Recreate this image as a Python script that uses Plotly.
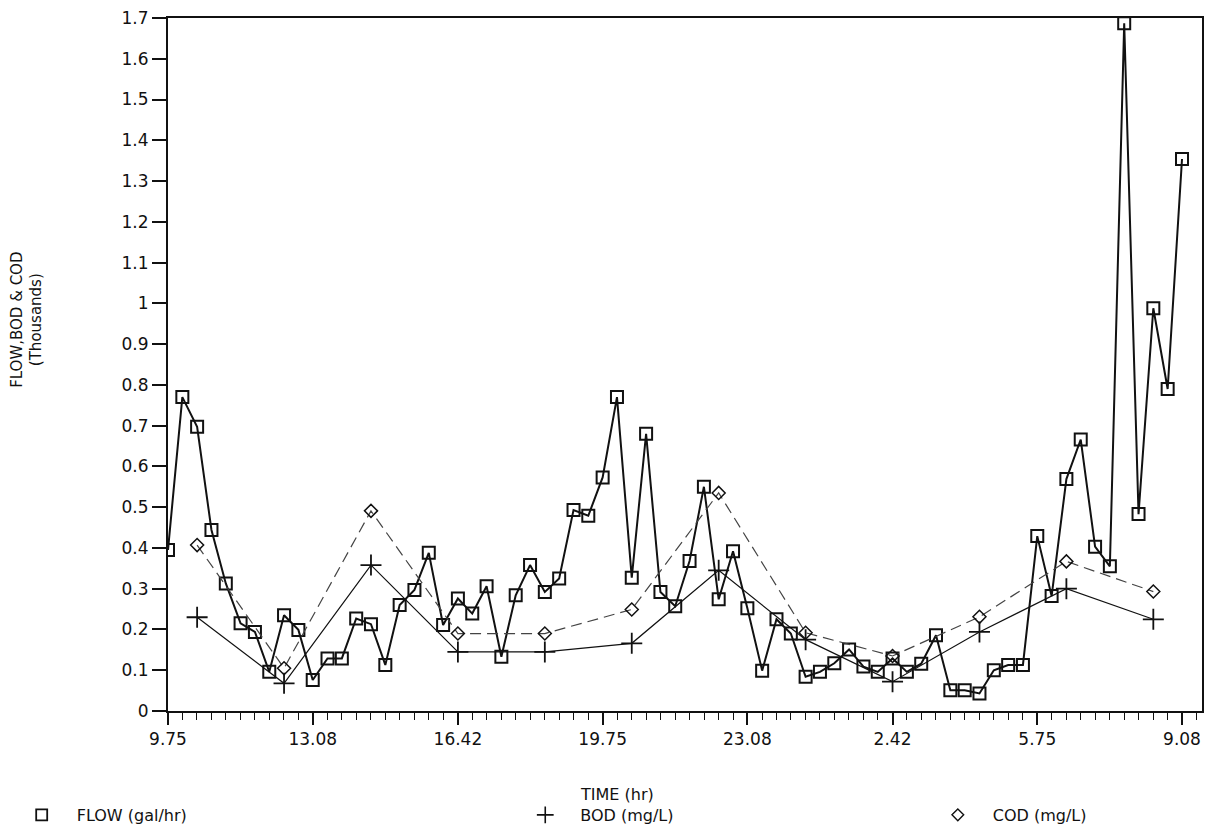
import plotly.graph_objects as go

# ---- data (values in thousands) ----
time_hr = [9.75, 10.08, 10.42, 10.75, 11.08, 11.42, 11.75, 12.08, 12.42, 12.75,
           13.08, 13.42, 13.75, 14.08, 14.42, 14.75, 15.08, 15.42, 15.75, 16.08,
           16.42, 16.75, 17.08, 17.42, 17.75, 18.08, 18.42, 18.75, 19.08, 19.42,
           19.75, 20.08, 20.42, 20.75, 21.08, 21.42, 21.75, 22.08, 22.42, 22.75,
           23.08, 23.42, 23.75, 24.08, 24.42, 24.75, 25.08, 25.42, 25.75, 26.08,
           26.42, 26.75, 27.08, 27.42, 27.75, 28.08, 28.42, 28.75, 29.08, 29.42,
           29.75, 30.08, 30.42, 30.75, 31.08, 31.42, 31.75, 32.08, 32.42, 32.75,
           33.08]

flow = [0.395, 0.770, 0.697, 0.444, 0.313, 0.215, 0.194, 0.096, 0.235, 0.199,
        0.076, 0.129, 0.129, 0.227, 0.213, 0.113, 0.260, 0.297, 0.388, 0.211,
        0.276, 0.239, 0.306, 0.133, 0.284, 0.358, 0.292, 0.325, 0.493, 0.479,
        0.573, 0.770, 0.327, 0.680, 0.292, 0.257, 0.368, 0.550, 0.274, 0.392,
        0.252, 0.099, 0.225, 0.190, 0.084, 0.096, 0.117, 0.151, 0.109, 0.096,
        0.129, 0.096, 0.116, 0.186, 0.051, 0.051, 0.043, 0.100, 0.113, 0.113,
        0.429, 0.282, 0.569, 0.666, 0.403, 0.355, 1.687, 0.483, 0.988, 0.790,
        1.354]

lab_time = [10.42, 12.42, 14.42, 16.42, 18.42, 20.42, 22.42, 24.42, 26.42, 28.42, 30.42, 32.42]
bod = [0.230, 0.068, 0.358, 0.145, 0.145, 0.166, 0.345, 0.175, 0.072, 0.194, 0.300, 0.225]
cod = [0.407, 0.105, 0.491, 0.190, 0.190, 0.249, 0.535, 0.192, 0.135, 0.231, 0.367, 0.293]

x_tickvals = [9.75, 13.08, 16.42, 19.75, 23.08, 26.42, 29.75, 33.08]
x_ticktext = ["9.75", "13.08", "16.42", "19.75", "23.08", "2.42", "5.75", "9.08"]
y_tickvals = [0, 0.1, 0.2, 0.3, 0.4, 0.5, 0.6, 0.7, 0.8, 0.9, 1.0,
              1.1, 1.2, 1.3, 1.4, 1.5, 1.6, 1.7]
y_ticktext = ["0", "0.1", "0.2", "0.3", "0.4", "0.5", "0.6", "0.7", "0.8", "0.9", "1",
              "1.1", "1.2", "1.3", "1.4", "1.5", "1.6", "1.7"]

INK = "#111111"
FONT = "DejaVu Sans"

fig = go.Figure()

fig.add_trace(go.Scatter(
    x=time_hr, y=flow, mode="lines+markers", showlegend=False,
    line=dict(color=INK, width=2),
    marker=dict(symbol="square-open", size=12, color=INK, line=dict(width=2)),
))
fig.add_trace(go.Scatter(
    x=lab_time, y=bod, mode="lines+markers", showlegend=False,
    line=dict(color=INK, width=1.2),
    marker=dict(symbol="cross-thin-open", size=15, color=INK, line=dict(width=1.8, color=INK)),
))
fig.add_trace(go.Scatter(
    x=lab_time, y=cod, mode="lines+markers", showlegend=False,
    line=dict(color="#444444", width=1.2, dash="11px,6px"),
    marker=dict(symbol="diamond-open", size=10, color=INK, line=dict(width=1.5)),
))

# legend-only entries (marker symbols only, as in the original)
fig.add_trace(go.Scatter(
    x=[None], y=[None], mode="markers", name="FLOW (gal/hr)", legend="legend",
    marker=dict(symbol="square-open", size=11, color=INK, line=dict(width=1.8)),
))
fig.add_trace(go.Scatter(
    x=[None], y=[None], mode="markers", name="BOD (mg/L)", legend="legend2",
    marker=dict(symbol="cross-thin-open", size=12, color=INK, line=dict(width=1.6, color=INK)),
))
fig.add_trace(go.Scatter(
    x=[None], y=[None], mode="markers", name="COD (mg/L)", legend="legend3",
    marker=dict(symbol="diamond-open", size=9, color=INK, line=dict(width=1.4)),
))

leg_common = dict(orientation="h", yanchor="middle", y=-0.150, xanchor="left",
                  font=dict(family=FONT, size=16, color=INK),
                  bgcolor="rgba(0,0,0,0)", itemwidth=60)

fig.update_layout(
    width=1219, height=840,
    margin=dict(l=160, r=25, t=10, b=137, autoexpand=False),
    paper_bgcolor="white", plot_bgcolor="white",
    font=dict(family=FONT, size=17, color=INK),
    legend=dict(x=-0.156, **leg_common),
    legend2=dict(x=0.331, **leg_common),
    legend3=dict(x=0.730, **leg_common),
    xaxis=dict(
        range=[9.75, 33.54], tickmode="array", tickvals=x_tickvals, ticktext=x_ticktext,
        ticks="outside", ticklen=12, tickwidth=1.6, tickcolor=INK,
        showline=True, linewidth=2, linecolor=INK, mirror=True,
        showgrid=False, zeroline=False, automargin=False, ticklabeloverflow="allow",
        minor=dict(tick0=9.75, dtick=1/3, ticks="outside", ticklen=7,
                   tickwidth=1.4, tickcolor=INK, showgrid=False),
        tickfont=dict(family=FONT, size=17, color=INK),
    ),
    yaxis=dict(
        range=[0, 1.7], tickmode="array", tickvals=y_tickvals, ticktext=y_ticktext,
        ticks="outside", ticklen=14, tickwidth=1.6, tickcolor=INK,
        showline=True, linewidth=2, linecolor=INK, mirror=True,
        showgrid=False, zeroline=False, automargin=False, ticklabeloverflow="allow",
        tickfont=dict(family=FONT, size=17, color=INK),
    ),
    annotations=[
        dict(text="FLOW,BOD &amp; COD<br>(Thousands)", textangle=-90,
             xref="paper", yref="paper", x=-0.136, y=0.565,
             xanchor="center", yanchor="middle", showarrow=False,
             font=dict(family=FONT, size=15, color=INK)),
        dict(text="TIME (hr)", xref="paper", yref="paper", x=0.434, y=-0.121,
             xanchor="center", yanchor="middle", showarrow=False,
             font=dict(family=FONT, size=16, color=INK)),
    ],
)

fig.write_html("out.html")
